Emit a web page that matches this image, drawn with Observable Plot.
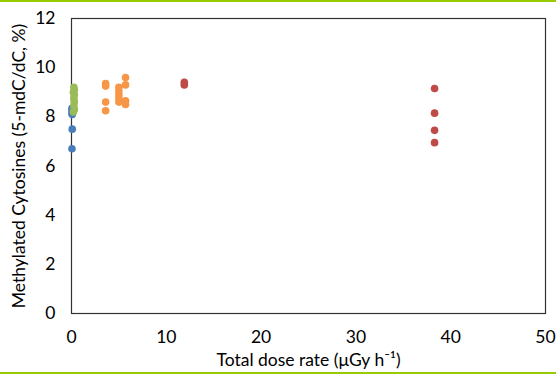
<!DOCTYPE html>
<html><head><meta charset="utf-8">
<script src="https://cdn.jsdelivr.net/npm/d3@7"></script>
<script src="https://cdn.jsdelivr.net/npm/@observablehq/plot@0.6"></script>
<style>
body{margin:0;background:#fff;}
#wrap{width:556px;border-top:2px solid #99CC00;border-bottom:2px solid #99CC00;}
svg{display:block;font-family:Lato, "Noto Sans", sans-serif;}
svg [aria-label$="label"] text{font-size:17.5px;}
</style></head>
<body><div id="wrap"></div>
<script>
const blueX = [0.05, 0.05, 0.05, 0.08, 0.08, 0.05];
const blueY = [8.35, 8.25, 8.15, 8.1, 7.5, 6.7];
const greenX = [0.25, 0.3, 0.2, 0.3, 0.25, 0.3, 0.25, 0.3, 0.2];
const greenY = [9.2, 9.1, 9.0, 8.9, 8.75, 8.6, 8.45, 8.3, 8.2];
const orangeX = [3.6, 3.6, 3.6, 3.6, 5.0, 5.0, 5.0, 5.0, 5.0, 5.7, 5.7, 5.7, 5.7];
const orangeY = [9.35, 9.25, 8.6, 8.25, 9.2, 9.05, 8.9, 8.75, 8.6, 9.6, 9.3, 8.65, 8.5];
const redX = [11.9, 11.9, 38.3, 38.3, 38.3, 38.3];
const redY = [9.4, 9.3, 9.15, 8.15, 7.45, 6.95];
const xTicks = [0, 10, 20, 30, 40, 50];
const yTicks = [0, 2, 4, 6, 8, 10, 12];
const colors = {blue: "#4A7EBB", green: "#9BBB59", orange: "#F79646", red: "#BE4B48"};

const mk = (xs, ys, c) => xs.map((x, i) => ({x, y: ys[i], c}));
const data = [
  ...mk(blueX, blueY, "blue"),
  ...mk(greenX, greenY, "green"),
  ...mk(orangeX, orangeY, "orange"),
  ...mk(redX, redY, "red")
];

const chart = Plot.plot({
  width: 556, height: 370,
  marginLeft: 71, marginRight: 11, marginTop: 16, marginBottom: 59,
  style: {fontSize: "16px", color: "#000", background: "#fff"},
  x: {domain: [0, 50], ticks: xTicks, tickSize: 0, tickPadding: 17, label: "Total dose rate (μGy h⁻¹)", labelAnchor: "center", labelArrow: "none", labelOffset: 52},
  y: {domain: [0, 12], ticks: yTicks, tickSize: 0, tickPadding: 16, label: "Methylated Cytosines (5-mdC/dC, %)", labelAnchor: "center", labelArrow: "none", labelOffset: 59},
  color: {domain: Object.keys(colors), range: Object.values(colors)},
  marks: [
    Plot.frame({stroke: "#333", strokeWidth: 1.2}),
    Plot.dot(data, {x: "x", y: "y", fill: d => colors[d.c], r: 3.8, stroke: "none"})
  ]
});
document.getElementById("wrap").appendChild(chart);
</script></body></html>
